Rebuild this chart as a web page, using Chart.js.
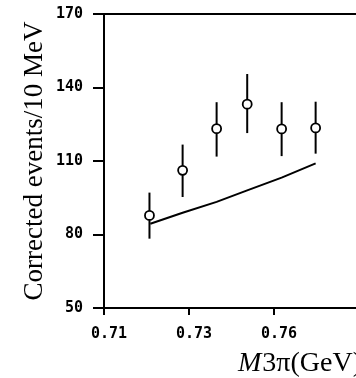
<!DOCTYPE html>
<html>
<head>
<meta charset="utf-8">
<script src="https://cdn.jsdelivr.net/npm/chart.js@4"></script>
<style>
  body { margin: 0; background: #fff; }
  #wrap { width: 356px; height: 378px; }
</style>
</head>
<body>
<div id="wrap"><canvas id="myChart" width="356" height="378"></canvas></div>
<script>
// measured points (M3pi in GeV, corrected events / 10 MeV)
var massGeV = [0.7207, 0.7285, 0.7365, 0.7437, 0.7518, 0.7598];
var events = [87.8, 106.2, 123.2, 133.2, 123.1, 123.5];
var errLow = [78.3, 95.3, 111.8, 121.4, 112.0, 113.0];
var errHigh = [97.1, 116.7, 134.0, 145.5, 134.0, 134.2];

// smooth curve drawn under the points
var curveX = [0.7209, 0.7285, 0.7365, 0.7437, 0.7518, 0.7598];
var curveY = [84.4, 88.9, 93.3, 98.0, 103.2, 109.0];

var yTicks = [50, 80, 110, 140, 170];
var xTickValues = [0.71, 0.73, 0.75];
var xTickLabels = ['0.71', '0.73', '0.76'];

var tickFont = { family: 'DejaVu Sans Mono', size: 15, weight: 'bold' };

function toPoints(xs, ys) {
    return xs.map(function (x, i) { return { x: x, y: ys[i] }; });
}

// error bars (under the open circles) and the two axis titles
var extras = {
    id: 'extras',
    beforeDatasetsDraw: function (chart) {
        var c = chart.ctx, xs = chart.scales.x, ys = chart.scales.y;
        c.save();
        c.strokeStyle = '#000';
        c.lineWidth = 2;
        massGeV.forEach(function (m, i) {
            var px = xs.getPixelForValue(m);
            c.beginPath();
            c.moveTo(px, ys.getPixelForValue(errLow[i]));
            c.lineTo(px, ys.getPixelForValue(errHigh[i]));
            c.stroke();
        });
        c.restore();
    },
    afterDraw: function (chart) {
        var c = chart.ctx;
        c.save();
        c.fillStyle = '#000';
        // y title
        c.translate(42, 161);
        c.rotate(-Math.PI / 2);
        c.font = '27px "Liberation Serif"';
        c.textAlign = 'center';
        c.textBaseline = 'alphabetic';
        c.fillText('Corrected events/10 MeV', 0, 0);
        c.restore();

        // x title, italic M
        c.save();
        c.fillStyle = '#000';
        c.textBaseline = 'alphabetic';
        c.textAlign = 'left';
        var x0 = 238, base = 371;
        c.font = 'italic 28px "Liberation Serif"';
        c.fillText('M', x0, base);
        var w = c.measureText('M').width;
        c.font = '28px "Liberation Serif"';
        c.fillText('3\u03C0(GeV)', x0 + w + 1, base);
        c.restore();
    }
};

var ctx = document.getElementById('myChart').getContext('2d');
var chart = new Chart(ctx, {
    type: 'scatter',
    data: {
        datasets: [{
            label: 'data',
            data: toPoints(massGeV, events),
            pointRadius: 4.5,
            pointBorderWidth: 1.8,
            pointBackgroundColor: '#fff',
            pointBorderColor: '#000',
            showLine: false
        }, {
            label: 'curve',
            data: toPoints(curveX, curveY),
            showLine: true,
            borderColor: '#000',
            borderWidth: 2,
            pointRadius: 0,
            tension: 0
        }]
    },
    plugins: [extras],
    options: {
        responsive: false,
        animation: false,
        layout: { autoPadding: false, padding: { top: 14, right: 0, left: 0, bottom: 0 } },
        plugins: {
            legend: { display: false },
            tooltip: { enabled: false }
        },
        scales: {
            x: {
                type: 'linear',
                min: 0.71,
                max: 0.7693,
                afterBuildTicks: function (scale) {
                    scale.ticks = xTickValues.map(function (v) { return { value: v }; });
                },
                afterFit: function (scale) {
                    scale.height = 70;
                    scale.paddingLeft = 0;
                    scale.paddingRight = 0;
                },
                ticks: {
                    color: '#000',
                    font: tickFont,
                    padding: 10,
                    labelOffset: 5,
                    maxRotation: 0,
                    autoSkip: false,
                    callback: function (v) {
                        var i = xTickValues.indexOf(v);
                        return i >= 0 ? xTickLabels[i] : '';
                    }
                },
                grid: {
                    drawOnChartArea: false,
                    tickLength: 7,
                    tickColor: '#000',
                    lineWidth: 2
                },
                border: { color: '#000', width: 2 }
            },
            y: {
                min: 50,
                max: 170,
                afterBuildTicks: function (scale) {
                    scale.ticks = yTicks.map(function (v) { return { value: v }; });
                },
                afterFit: function (scale) {
                    scale.width = 104;
                    scale.paddingTop = 0;
                    scale.paddingBottom = 0;
                },
                ticks: {
                    color: '#000',
                    font: tickFont,
                    padding: 10
                },
                grid: {
                    color: function (c) {
                        return c.tick && c.tick.value === 170 ? '#000' : 'rgba(0,0,0,0)';
                    },
                    tickColor: '#000',
                    tickLength: 11,
                    lineWidth: 2
                },
                border: { color: '#000', width: 2 }
            }
        }
    }
});
</script>
</body>
</html>
